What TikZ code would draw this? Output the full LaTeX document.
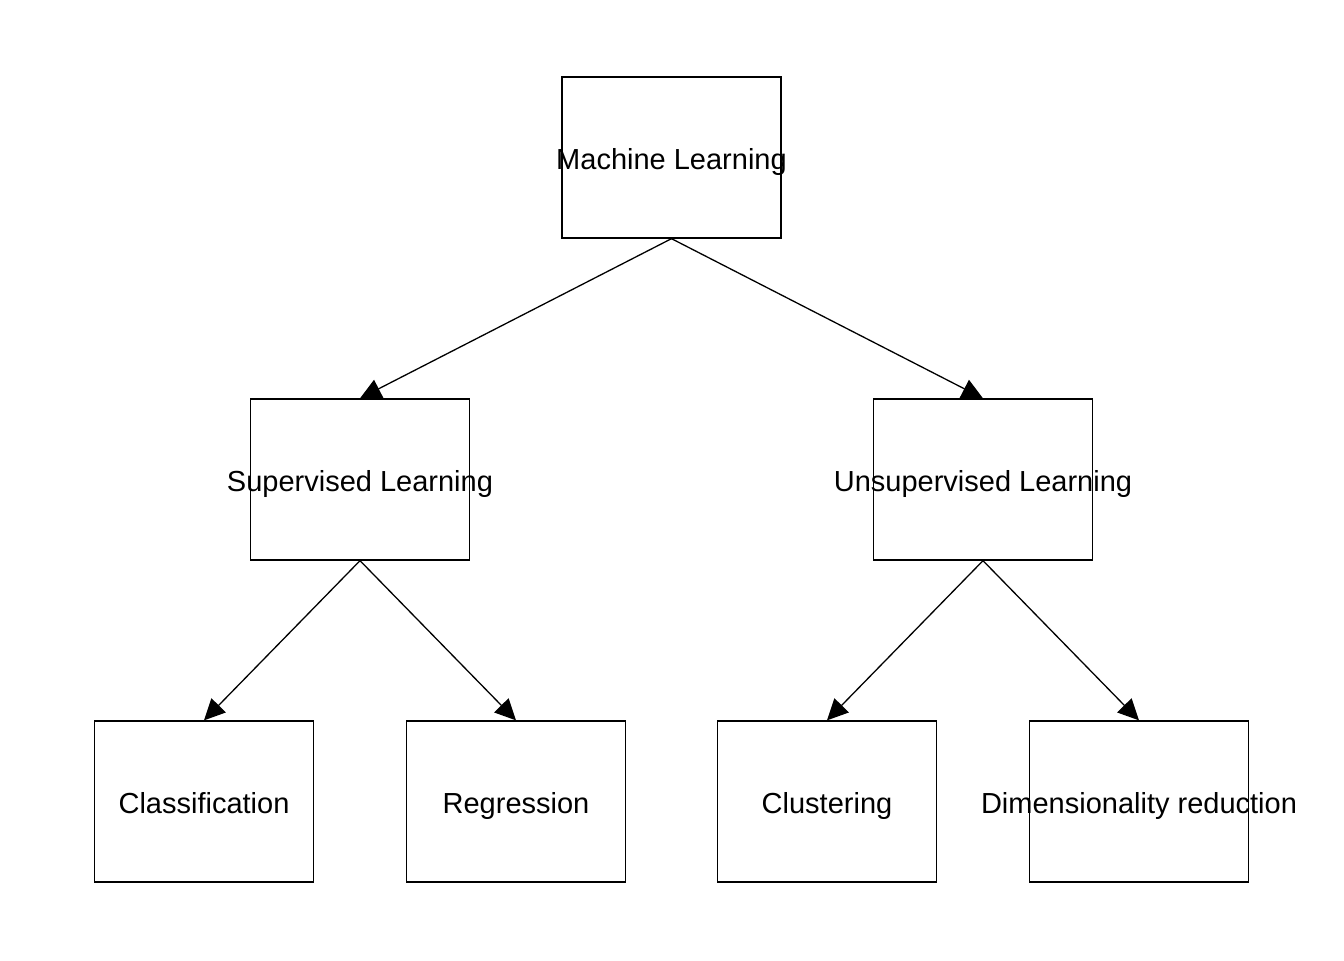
\documentclass[tikz,border=0pt]{standalone}
\usepackage{fontspec}
\setmainfont{Liberation Sans}
\usetikzlibrary{arrows.meta}
\begin{document}
\begin{tikzpicture}[x=0.5pt,y=-0.5pt,
  box/.style={draw, line width=0.65pt, minimum width=109.5pt, minimum height=80.5pt, inner sep=0pt},
  lbl/.style={font=\fontsize{14.5pt}{17pt}\selectfont, inner sep=0pt, anchor=base, yshift=-6pt},
  edge/.style={line width=0.65pt, -{Triangle[length=10.5pt,width=10pt]}}]
\useasboundingbox (0,0) rectangle (1344,960);
\node[box] (ml) at (671.5,157.5) {};
\node[box] (sl) at (360,479.5) {};
\node[box] (ul) at (983,479.5) {};
\node[box] (cf) at (204,801.5) {};
\node[box] (rg) at (516,801.5) {};
\node[box] (cl) at (827,801.5) {};
\node[box] (dr) at (1139,801.5) {};
\node[lbl] (tml) at (ml.center) {Machine Learning};
\node[lbl] (tsl) at (sl.center) {Supervised Learning};
\node[lbl] (tul) at (ul.center) {Unsupervised Learning};
\node[lbl] (tcf) at (cf.center) {Classification};
\node[lbl] (trg) at (rg.center) {Regression};
\node[lbl] (tcl) at (cl.center) {Clustering};
\node[lbl] (tdr) at (dr.center) {Dimensionality reduction};
\draw[edge] (ml.south) -- (sl.north);
\draw[edge] (ml.south) -- (ul.north);
\draw[edge] (sl.south) -- (cf.north);
\draw[edge] (sl.south) -- (rg.north);
\draw[edge] (ul.south) -- (cl.north);
\draw[edge] (ul.south) -- (dr.north);
\end{tikzpicture}
\end{document}
